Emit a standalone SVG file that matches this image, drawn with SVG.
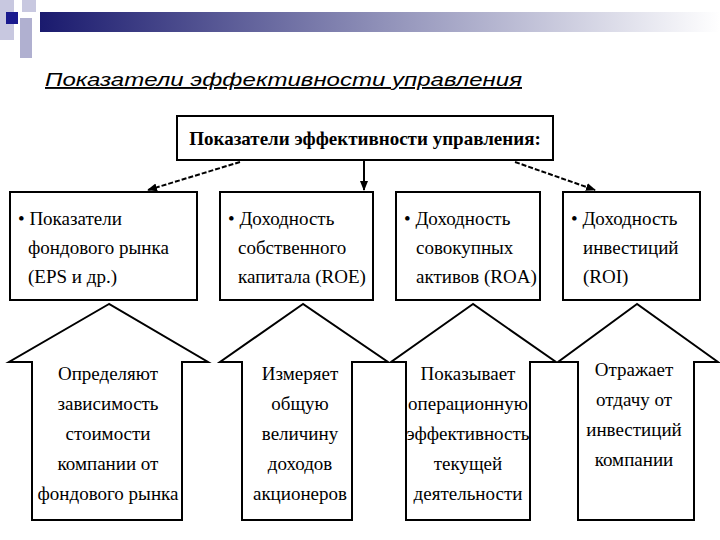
<svg xmlns="http://www.w3.org/2000/svg" width="720" height="540" viewBox="0 0 720 540">
<defs>
<linearGradient id="g" x1="0" x2="1"><stop offset="0" stop-color="#1a1a6e"/><stop offset="0.5" stop-color="#8f90b8"/><stop offset="1" stop-color="#ffffff"/></linearGradient>
<marker id="ah" markerWidth="10" markerHeight="10" refX="9" refY="5" orient="auto" markerUnits="userSpaceOnUse"><path d="M0,1 L10,5 L0,9 Z" fill="#000"/></marker>
<style>
.b{fill:#fff;stroke:#000;stroke-width:2}
.t{font-family:"Liberation Serif",serif;font-size:19px;fill:#000}
.c{text-anchor:middle}
</style>
</defs>
<g id="header">
<rect x="40" y="12" width="680" height="20" fill="url(#g)"/>
<rect x="0" y="0" width="14" height="40" fill="#c8c8e0"/>
<rect x="22" y="0" width="14" height="12" fill="#c8c8e0"/>
<rect x="20" y="18" width="12" height="40" fill="#b0b0d0"/>
<rect x="6" y="12" width="12" height="12" fill="#1a1a8e"/>
<text x="45" y="86" font-family="Liberation Sans,sans-serif" font-style="italic" font-size="19" textLength="477" lengthAdjust="spacingAndGlyphs" text-decoration="underline" fill="#000">Показатели эффективности управления</text>
</g>
<g id="top"><rect class="b" x="177" y="116" width="376" height="44"/><text class="t c" x="365" y="145" font-weight="bold" font-size="18">Показатели эффективности управления:</text></g>
<g id="connectors" stroke="#000" stroke-width="2" fill="none">
<line x1="240" y1="162" x2="148" y2="190" stroke-dasharray="5,2" marker-end="url(#ah)"/>
<line x1="364" y1="160" x2="364" y2="190" marker-end="url(#ah)"/>
<line x1="515" y1="162" x2="595" y2="190" stroke-dasharray="5,2" marker-end="url(#ah)"/>
</g>
<g id="b1"><rect class="b" x="10" y="192" width="187" height="108"/><text class="t" x="18" y="225">• Показатели</text><text class="t" x="28" y="254">фондового рынка</text><text class="t" x="28" y="283">(EPS и др.)</text></g>
<g id="b2"><rect class="b" x="220" y="192" width="153" height="108"/><text class="t" x="228" y="225">• Доходность</text><text class="t" x="238" y="254">собственного</text><text class="t" x="238" y="283">капитала (ROE)</text></g>
<g id="b3"><rect class="b" x="396" y="192" width="144" height="108"/><text class="t" x="404" y="225">• Доходность</text><text class="t" x="416" y="254">совокупных</text><text class="t" x="416" y="283">активов (ROA)</text></g>
<g id="b4"><rect class="b" x="563" y="192" width="137" height="108"/><text class="t" x="571" y="225">• Доходность</text><text class="t" x="583" y="254">инвестиций</text><text class="t" x="583" y="283">(ROI)</text></g>
<g id="a1"><path class="b" d="M109,304 L9,362 L32,362 L32,520 L182,520 L182,362 L208,362 Z"/><text class="t c" x="108" y="380">Определяют</text><text class="t c" x="108" y="410">зависимость</text><text class="t c" x="108" y="440">стоимости</text><text class="t c" x="108" y="470">компании от</text><text class="t c" x="108" y="500">фондового рынка</text></g>
<g id="a2"><path class="b" d="M303,304 L220,362 L242,362 L242,520 L352,520 L352,362 L388,362 Z"/><text class="t c" x="300" y="380">Измеряет</text><text class="t c" x="300" y="410">общую</text><text class="t c" x="300" y="440">величину</text><text class="t c" x="300" y="470">доходов</text><text class="t c" x="300" y="500">акционеров</text></g>
<g id="a3"><path class="b" d="M473,304 L391,362 L406,362 L406,520 L530,520 L530,362 L556,362 Z"/><text class="t c" x="468" y="380">Показывает</text><text class="t c" x="468" y="410">операционную</text><text class="t c" x="468" y="440">эффективность</text><text class="t c" x="468" y="470">текущей</text><text class="t c" x="468" y="500">деятельности</text></g>
<g id="a4"><path class="b" d="M637,304 L558,362 L578,362 L578,520 L694,520 L694,362 L718,362 Z"/><text class="t c" x="634" y="376">Отражает</text><text class="t c" x="634" y="406">отдачу от</text><text class="t c" x="634" y="436">инвестиций</text><text class="t c" x="634" y="466">компании</text></g>
</svg>
